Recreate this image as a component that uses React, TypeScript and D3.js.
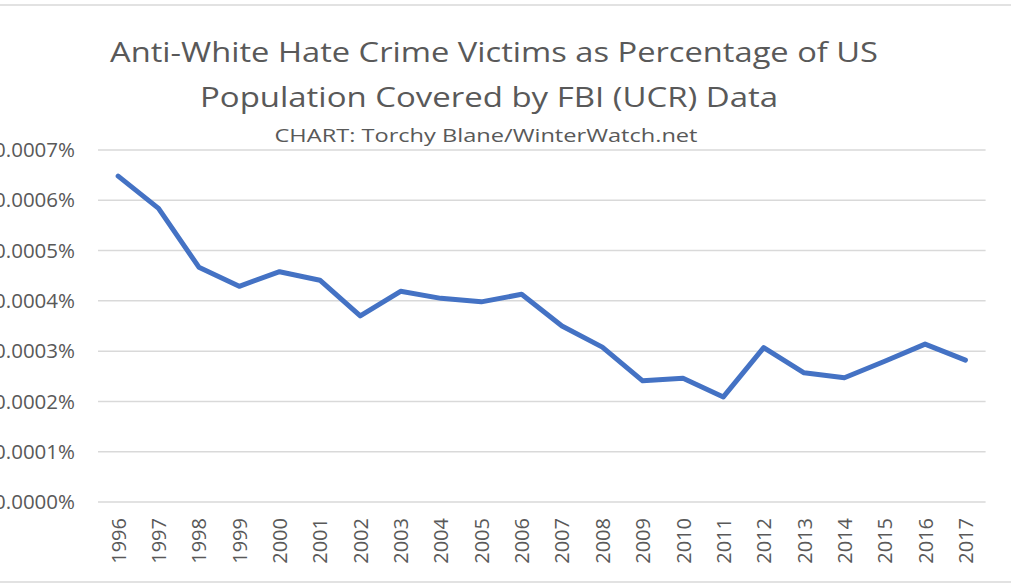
import React from "react";
import * as d3 from "d3";

const years = ["1996","1997","1998","1999","2000","2001","2002","2003","2004","2005","2006","2007","2008","2009","2010","2011","2012","2013","2014","2015","2016","2017"];
// values in percent
const values = [0.000648,0.000584,0.000467,0.000429,0.000458,0.000441,0.00037,0.000419,0.000405,0.000398,0.000413,0.00035,0.000308,0.000241,0.000246,0.000209,0.000307,0.000257,0.000247,0.00028,0.000314,0.000282];
const yTicks = [0,0.0001,0.0002,0.0003,0.0004,0.0005,0.0006,0.0007];
const titleLines = ["Anti-White Hate Crime Victims as Percentage of US","Population Covered by FBI (UCR) Data"];
const subtitle = "CHART: Torchy Blane/WinterWatch.net";

export default function App() {
  const W = 1011, H = 584;
  const x = d3.scaleBand<string>().domain(years).range([98, 985.6]);
  const y = d3.scaleLinear().domain([0, 0.0007]).range([502, 150]);
  const line = d3.line<number>().x((_, i) => (x(years[i]) as number) + x.bandwidth() / 2).y(d => y(d));
  const font = "'Open Sans', sans-serif";
  const gray = "#595959";
  return (
    <svg width={W} height={H} style={{ position: "absolute", left: 0, top: 0, background: "#fff" }}>
      <line x1={0} x2={W} y1={5} y2={5} stroke="#d9d9d9" strokeWidth={1.5} />
      <line x1={0} x2={W} y1={582} y2={582} stroke="#d9d9d9" strokeWidth={1.5} />
      {yTicks.map(t => (
        <g key={t}>
          <line x1={98} x2={985.6} y1={y(t)} y2={y(t)} stroke="#d9d9d9" strokeWidth={1.5} />
          <text x={75} y={y(t)} dy="0.35em" textAnchor="end" fontFamily={font} fontSize={20.5} fill={gray}>
            {t.toFixed(4) + "%"}
          </text>
        </g>
      ))}
      {years.map(yr => {
        const cx = (x(yr) as number) + x.bandwidth() / 2;
        return (
          <text key={yr} transform={`translate(${cx + 7.5},518) rotate(-90)`} textAnchor="end" fontFamily={font} fontSize={20} fill={gray}>
            {yr}
          </text>
        );
      })}
      <path d={line(values) || ""} fill="none" stroke="#4472C4" strokeWidth={5} strokeLinejoin="round" strokeLinecap="round" />
      <text x={494} y={62} textAnchor="middle" fontFamily={font} fontSize={28} fill={gray} textLength={768} lengthAdjust="spacingAndGlyphs">{titleLines[0]}</text>
      <text x={489} y={107} textAnchor="middle" fontFamily={font} fontSize={28} fill={gray} textLength={578} lengthAdjust="spacingAndGlyphs">{titleLines[1]}</text>
      <text x={486} y={142} textAnchor="middle" fontFamily={font} fontSize={19} fill={gray} textLength={423} lengthAdjust="spacingAndGlyphs">{subtitle}</text>
    </svg>
  );
}
